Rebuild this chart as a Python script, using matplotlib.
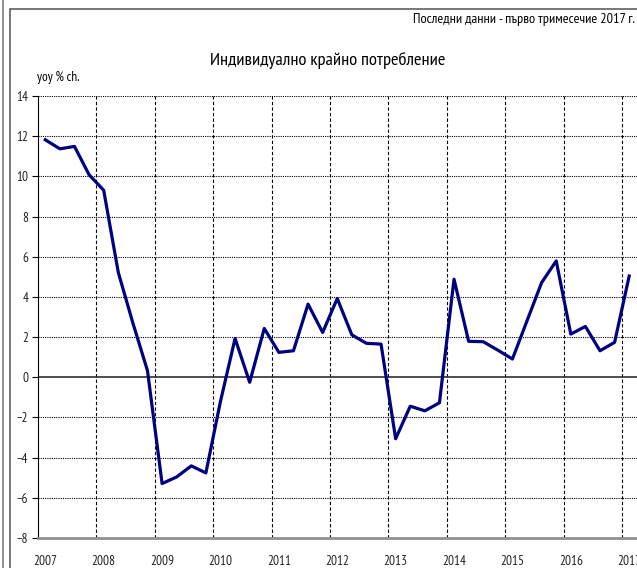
import matplotlib.pyplot as plt
from matplotlib.patches import Rectangle
from matplotlib.lines import Line2D

# quarterly yoy % change, 2007Q1 .. 2017Q1
values = [11.82, 11.37, 11.49, 10.08,
          9.31, 5.22, 2.7, 0.33,
          -5.29, -4.96, -4.41, -4.76,
          -1.2, 1.93, -0.25, 2.43,
          1.24, 1.32, 3.64, 2.23,
          3.92, 2.11, 1.69, 1.65,
          -3.06, -1.44, -1.67, -1.27,
          4.88, 1.79, 1.77, 1.35,
          0.91, 2.81, 4.71, 5.79,
          2.15, 2.53, 1.32, 1.74,
          5.04]
years = ['2007', '2008', '2009', '2010', '2011', '2012',
         '2013', '2014', '2015', '2016', '2017']

plt.rcParams['font.family'] = ['PT Sans Narrow', 'DejaVu Sans']

W, H = 637, 568
fig = plt.figure(figsize=(W / 100, H / 100), dpi=100)

# outer frames
fig.add_artist(Line2D([3 / W, 3 / W], [0, 1], color='#808080', lw=1.2))
fig.add_artist(Rectangle((10 / W, -0.1), 1.0, 1 - 9 / H + 0.1, fill=False,
                         edgecolor='#606060', lw=1.2, transform=fig.transFigure))

ax = fig.add_axes([38 / W, 1 - 538 / H, (636.5 - 38) / W, (538 - 96) / H])
x = list(range(len(values)))
ax.plot(x, values, color='#000080', lw=2.3, zorder=3)

ax.set_xlim(-0.5, len(values) - 0.5)
ax.set_ylim(-8, 14)
ax.set_yticks(range(-8, 15, 2))

# gridlines between Q4 and Q1
for b in range(4, len(values), 4):
    ax.axvline(b - 0.5, color='black', lw=0.8, ls=(0, (3, 2)), zorder=1)
for yv in range(-6, 15, 2):
    if yv == 0:
        ax.axhline(0, color='#303030', lw=1.2, zorder=1)
    else:
        ax.axhline(yv, color='black', lw=0.8, ls=(0, (1, 1)), zorder=1)

ax.set_xticks(range(0, len(values), 4))
ax.set_xticklabels(years, fontsize=9.5, color='#222222')
ax.tick_params(axis='x', length=0, pad=12)
ax.tick_params(axis='y', length=4, direction='out', labelsize=9.5,
               labelcolor='#222222', pad=3)

for s in ['top', 'right']:
    ax.spines[s].set_visible(False)
ax.spines['left'].set_color('black')
ax.spines['bottom'].set_color('#909090')
ax.spines['bottom'].set_linewidth(2)

fig.text(328 / W, 1 - 60 / H, 'Индивидуално крайно потребление',
         ha='center', va='center', fontsize=13.3)
fig.text(635 / W, 1 - 20 / H, 'Последни данни - първо тримесечие 2017 г.',
         ha='right', va='center', fontsize=10.3)
fig.text(37 / W, 1 - 78 / H, 'yoy % ch.', ha='left', va='center', fontsize=9.5)

fig.savefig('out.png', dpi=100)
